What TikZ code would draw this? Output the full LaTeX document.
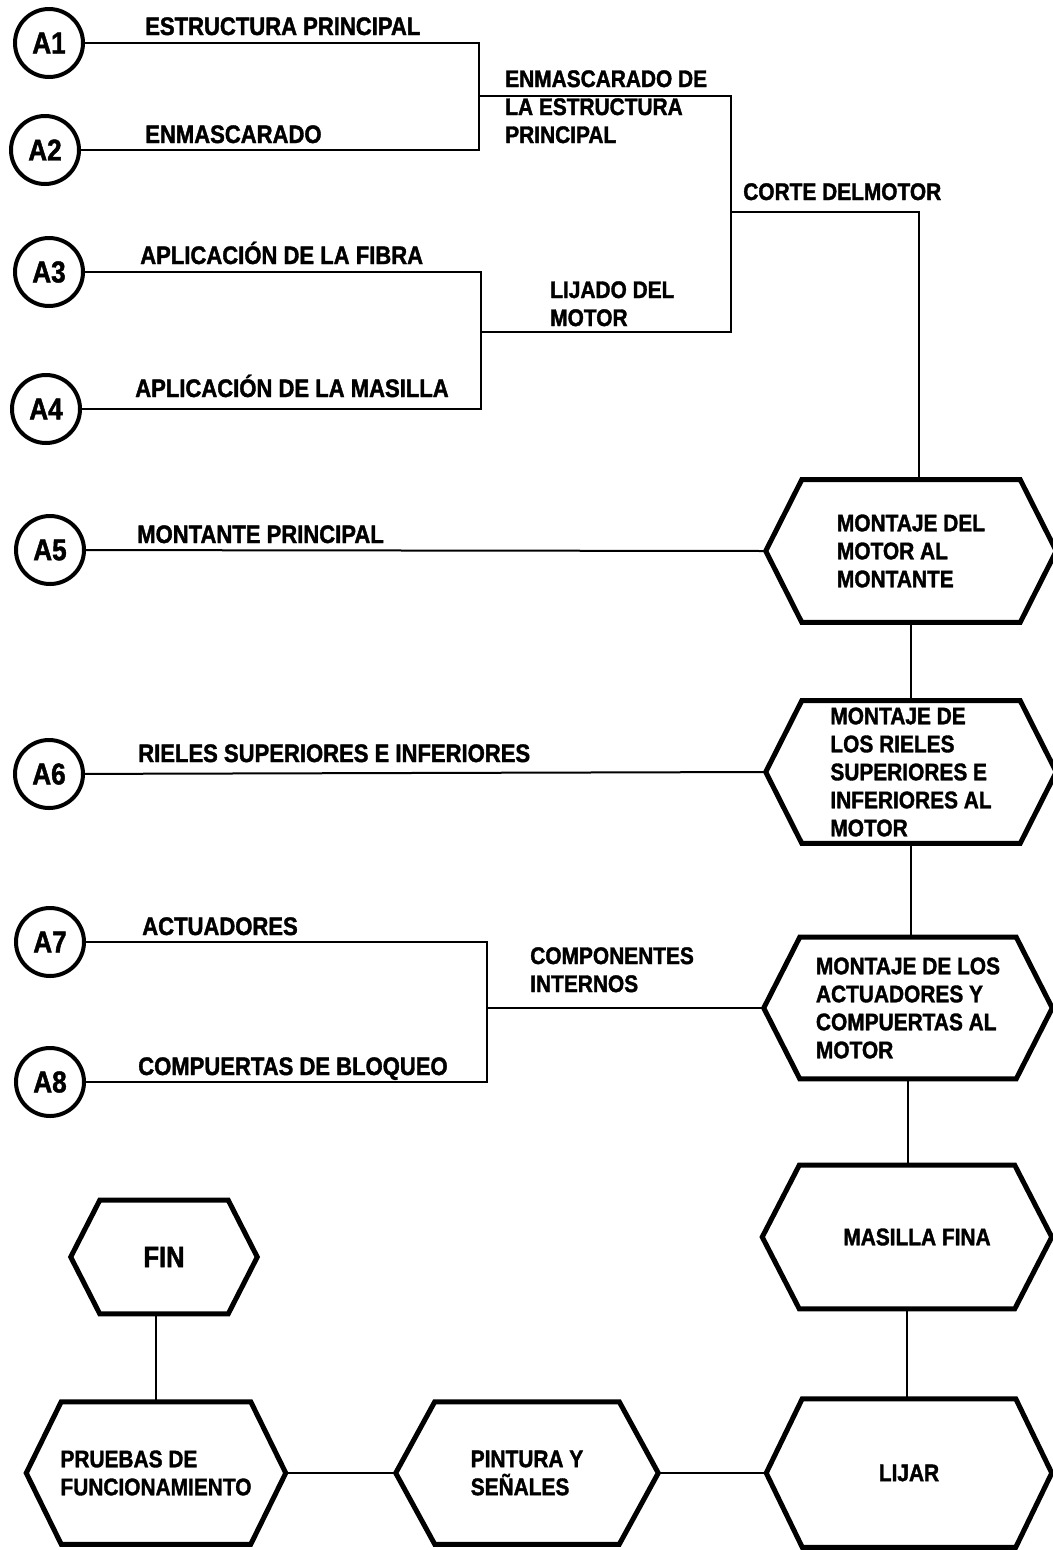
\documentclass[tikz,border=0pt]{standalone}
\usepackage{fontspec}
\setmainfont{Liberation Sans}[FakeStretch=0.87, BoldFeatures={FakeBold=1.5}]
\newcommand{\rotulofont}{\fontsize{19}{21}\selectfont\bfseries}
\newcommand{\chicofont}{\fontsize{18}{21}\selectfont\bfseries}
\newcommand{\pasofont}{\fontsize{18}{21}\selectfont\bfseries}

\tikzset{
  linea/.style={line width=1.5pt},
  circulo/.style={circle, draw, line width=3pt, minimum size=51pt, inner sep=0pt,
    font=\fontsize{22.5}{24}\selectfont\bfseries},
  rotulo/.style={anchor=base west, inner sep=0pt, font=\rotulofont},
  bloque/.style={anchor=north west, inner sep=0pt, align=left, font=\chicofont},
  % hexagon: width, height, slant of the pointed ends
  paso/.style n args={3}{minimum width=#1, minimum height=#2, inner sep=0pt,
    align=left, font=\pasofont,
    append after command={\pgfextra{\draw[line width=3.75pt]
      (\tikzlastnode.west) -- ([xshift=#3]\tikzlastnode.north west)
      -- ([xshift=-#3]\tikzlastnode.north east) -- (\tikzlastnode.east)
      -- ([xshift=-#3]\tikzlastnode.south east)
      -- ([xshift=#3]\tikzlastnode.south west) -- cycle;}}},
}

\begin{document}
\begin{tikzpicture}[x=0.75pt,y=0.75pt,yscale=-1,xscale=1]
  \useasboundingbox[fill=white] (0,0) rectangle (1053,1550);

  % entradas
  \node[circulo] (a1) at (49,43) {A1};
  \node[circulo] (a2) at (45,150) {A2};
  \node[circulo] (a3) at (49,272) {A3};
  \node[circulo] (a4) at (46,409) {A4};
  \node[circulo] (a5) at (50,550) {A5};
  \node[circulo] (a6) at (49,774) {A6};
  \node[circulo] (a7) at (50,942) {A7};
  \node[circulo] (a8) at (50,1082) {A8};

  % pasos
  \node[paso={217.5pt}{106.5pt}{27pt}] (m1) at (911,551) {MONTAJE DEL\\MOTOR AL\\MONTANTE};
  \node[paso={217.5pt}{106.5pt}{27pt}] (m2) at (911,772) {MONTAJE DE\\LOS RIELES\\SUPERIORES E\\INFERIORES AL\\MOTOR};
  \node[paso={216pt}{105.75pt}{27pt}] (m3) at (908,1008) {MONTAJE DE LOS\\ACTUADORES Y\\COMPUERTAS AL\\MOTOR};
  \node[paso={216.75pt}{107.25pt}{27.75pt}] (m4) at (907,1237) {\hspace*{15pt}MASILLA FINA};
  \node[paso={213.75pt}{111pt}{27pt}] (m5) at (909,1473) {LIJAR};
  \node[paso={196.5pt}{106.5pt}{29.25pt}] (pintura) at (527,1473) {PINTURA Y\\SEÑALES};
  \node[paso={194.25pt}{106.5pt}{26.25pt}] (pruebas) at (156,1473) {PRUEBAS DE\\FUNCIONAMIENTO};
  \node[paso={139.5pt}{84.75pt}{21.75pt}, font=\fontsize{22}{24}\selectfont\bfseries] (fin) at (164,1257) {FIN};

  % uniones
  \coordinate (j1) at (479,96);
  \coordinate (j2) at (481,332);
  \coordinate (k1) at (731,212);
  \coordinate (c1) at (919,212);
  \coordinate (j3) at (487,1008);

  \draw[linea] (a1) -- (a1 -| j1) -- (a2 -| j1) -- (a2);
  \draw[linea] (a3) -- (a3 -| j2) -- (a4 -| j2) -- (a4);
  \draw[linea] (j1) -- (j1 -| k1) -- (j2 -| k1) -- (j2);
  \draw[linea] (k1) -- (c1) -- (c1 |- m1.north);
  \draw[linea] (a5) -- (m1.west);
  \draw[linea] (a6) -- (m2.west);
  \draw[linea] (a7) -- (a7 -| j3) -- (a8 -| j3) -- (a8);
  \draw[linea] (j3) -- (m3.west);
  \draw[linea] (m1.south) -- (m1.south |- m2.north);
  \draw[linea] (m2.south) -- (m2.south |- m3.north);
  \draw[linea] (m3.south) -- (m3.south |- m4.north);
  \draw[linea] (m4.south) -- (m4.south |- m5.north);
  \draw[linea] (m5.west) -- (pintura.east);
  \draw[linea] (pintura.west) -- (pruebas.east);
  \draw[linea] (fin.south -| pruebas) -- (pruebas.north);

  % rotulos
  \node[rotulo] (t1) at (145,35) {ESTRUCTURA PRINCIPAL};
  \node[rotulo] (t2) at (145,143) {ENMASCARADO};
  \node[bloque] (t3) at (505,70) {ENMASCARADO DE\\LA ESTRUCTURA\\PRINCIPAL};
  \node[rotulo, font=\chicofont] (t4) at (743,200) {CORTE DELMOTOR};
  \node[rotulo] (t5) at (140,264) {APLICACIÓN DE LA FIBRA};
  \node[bloque] (t6) at (550,281) {LIJADO DEL\\MOTOR};
  \node[rotulo] (t7) at (135,397) {APLICACIÓN DE LA MASILLA};
  \node[rotulo] (t8) at (137,543) {MONTANTE PRINCIPAL};
  \node[rotulo] (t9) at (138,762) {RIELES SUPERIORES E INFERIORES};
  \node[rotulo] (t10) at (142,935) {ACTUADORES};
  \node[bloque] (t11) at (530,947) {COMPONENTES\\INTERNOS};
  \node[rotulo] (t12) at (138,1075) {COMPUERTAS DE BLOQUEO};
\end{tikzpicture}
\end{document}
